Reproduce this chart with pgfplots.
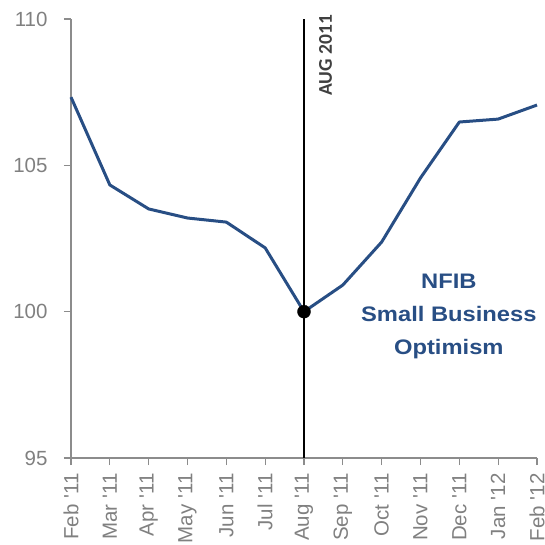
\documentclass[border=0pt]{standalone}
\usepackage{fontspec}
\setmainfont{Liberation Sans}
\newfontfamily\carlito{Carlito}
\usepackage{pgfplots}
\pgfplotsset{compat=1.18}
\definecolor{nfib}{RGB}{40,78,132}
\definecolor{tickgray}{RGB}{128,128,128}
\definecolor{axgray}{RGB}{140,140,140}
\definecolor{auggray}{RGB}{64,64,64}
\begin{document}
\begin{tikzpicture}
\begin{axis}[
  scale only axis,
  width=466pt, height=439pt,
  xmin=0, xmax=12, ymin=95, ymax=110,
  axis lines*=left,
  axis line style={axgray, line width=1.1pt},
  tick style={axgray, line width=1.1pt},
  tick align=outside,
  major tick length=7pt,
  xtick={0,...,12},
  xticklabels={Feb \textquotesingle 11, Mar \textquotesingle 11, Apr \textquotesingle 11, May \textquotesingle 11, Jun \textquotesingle 11, Jul \textquotesingle 11, Aug \textquotesingle 11, Sep \textquotesingle 11, Oct \textquotesingle 11, Nov \textquotesingle 11, Dec \textquotesingle 11, Jan \textquotesingle 12, Feb \textquotesingle 12},
  ytick={95,100,105,110},
  /pgf/number format/assume math mode=true,
  ticklabel style={font=\fontsize{20.5}{24}\selectfont, text=tickgray},
  xticklabel style={yshift=-5pt, rotate=90, anchor=east},
  yticklabel style={xshift=-13pt},
  clip=false,
]
\addplot[black, line width=1.5pt] coordinates {(6,95) (6,110)};
\addplot[nfib, line width=3pt, line join=round] coordinates {
(0,107.33) (1,104.33) (2,103.51) (3,103.20) (4,103.06) (5,102.18) (6,100.0)
(7,100.91) (8,102.38) (9,104.57) (10,106.48) (11,106.58) (12,107.06)};
\addplot[only marks, mark=*, mark size=6.5pt, black] coordinates {(6,100)};
\node[rotate=90, anchor=base east, inner sep=0pt, text=auggray, font=\carlito\bfseries\fontsize{19.5}{22}\selectfont] at (axis cs:6.72,110.14) {AUG 2011};
\node[anchor=base, inner sep=0pt, text=nfib, font=\bfseries\fontsize{21}{24}\selectfont] at (axis cs:9.73,100.78) {\scalebox{1.13}[1]{NFIB}};
\node[anchor=base, inner sep=0pt, text=nfib, font=\bfseries\fontsize{21}{24}\selectfont] at (axis cs:9.73,99.65) {\scalebox{1.13}[1]{Small Business}};
\node[anchor=base, inner sep=0pt, text=nfib, font=\bfseries\fontsize{21}{24}\selectfont] at (axis cs:9.73,98.55) {\scalebox{1.13}[1]{Optimism}};
\end{axis}
\pgfresetboundingbox
\useasboundingbox (-71pt,-86pt) rectangle (474pt,458pt);
\end{tikzpicture}
\end{document}
